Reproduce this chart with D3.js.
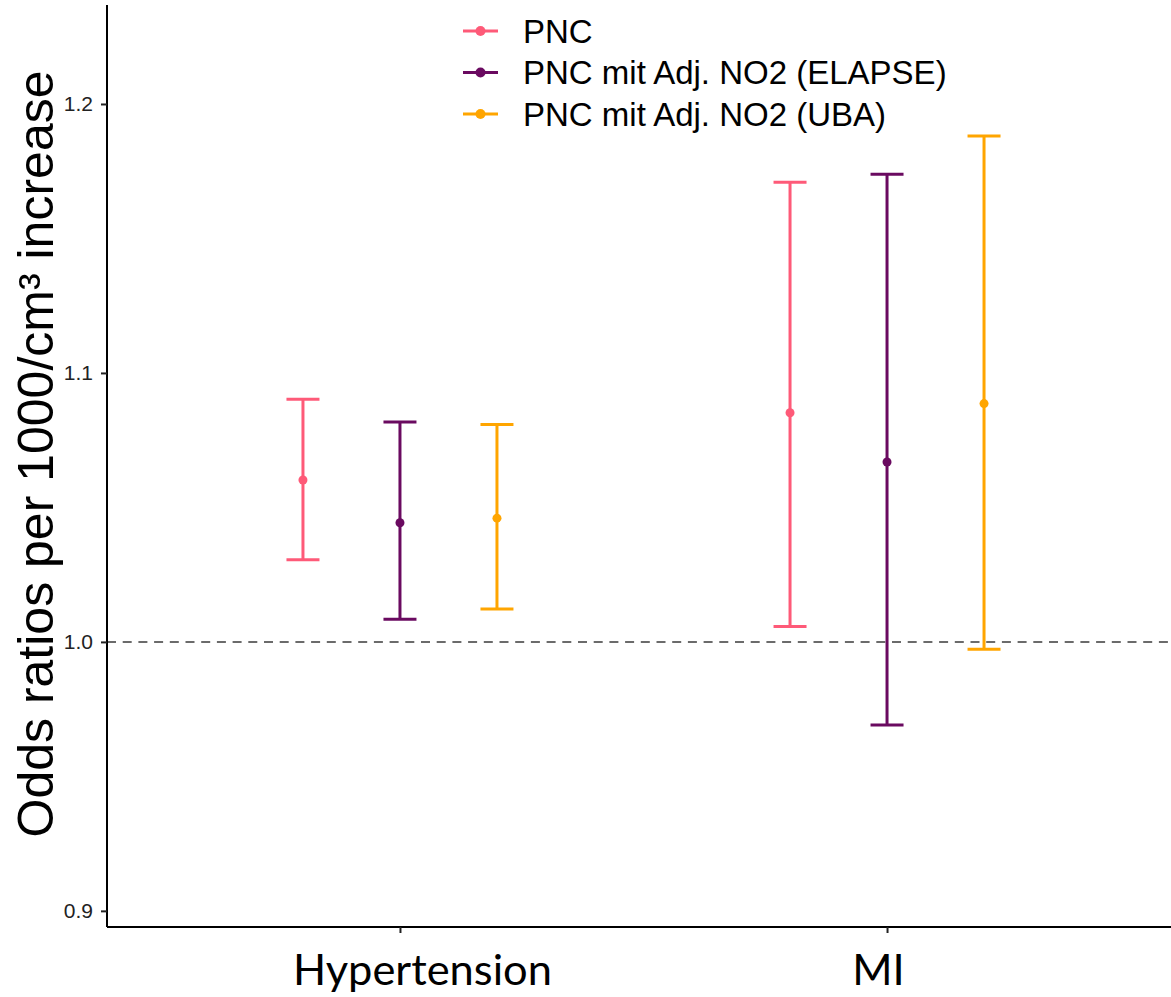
<!DOCTYPE html>
<html>
<head>
<meta charset="utf-8">
<script src="https://cdn.jsdelivr.net/npm/d3@7"></script>
<style>
  html, body { margin: 0; padding: 0; background: #fff; }
  svg { display: block; }
</style>
</head>
<body>
<svg id="chart" width="1171" height="997"></svg>
<script>
// ---- data ----
const categories = ["Hypertension", "MI"];
const seriesNames = ["PNC", "PNC mit Adj. NO2 (ELAPSE)", "PNC mit Adj. NO2 (UBA)"];
const seriesColors = ["#fe5a78", "#6a0a60", "#ffa500"];
// estimates [Hypertension, MI]
const estPNC     = [1.0602, 1.0852];
const lowPNC     = [1.0305, 1.0057];
const highPNC    = [1.0902, 1.1709];
const estELAPSE  = [1.0443, 1.0669];
const lowELAPSE  = [1.0084, 0.9691];
const highELAPSE = [1.0818, 1.1739];
const estUBA     = [1.0460, 1.0886];
const lowUBA     = [1.0122, 0.9973];
const highUBA    = [1.0808, 1.1881];
const yTicks = [0.9, 1.0, 1.1, 1.2];
const yTitle = "Odds ratios per 1000/cm³ increase";
const refValue = 1.0;

const seriesData = [
  {name: seriesNames[0], est: estPNC, low: lowPNC, high: highPNC},
  {name: seriesNames[1], est: estELAPSE, low: lowELAPSE, high: highELAPSE},
  {name: seriesNames[2], est: estUBA, low: lowUBA, high: highUBA}
];
const rows = [];
seriesData.forEach((s, si) => {
  categories.forEach((c, ci) => {
    rows.push({cat: c, series: s.name, color: seriesColors[si], est: s.est[ci], low: s.low[ci], high: s.high[ci]});
  });
});

// ---- layout ----
const svg = d3.select("#chart");
const mLeft = 107, mTop = 5, mBottom = 927, mRight = 1171;

const y = d3.scaleLinear().domain([0.894, 1.2368]).range([mBottom, mTop]);
const x = d3.scalePoint().domain(categories).range([mLeft, 1180]).padding(0.6015);
const dodge = d3.scaleBand().domain(seriesNames).range([-145.5, 145.5]);
const color = d3.scaleOrdinal().domain(seriesNames).range(seriesColors);
const xPos = d => x(d.cat) + dodge(d.series) + dodge.bandwidth() / 2;
const capW = 33;

// reference line
svg.append("line")
  .attr("x1", mLeft).attr("x2", mRight)
  .attr("y1", y(refValue)).attr("y2", y(refValue))
  .attr("stroke", "#6b6b6b").attr("stroke-width", 2)
  .attr("stroke-dasharray", "9,6.7");

// error bars
const g = svg.append("g");
const bars = g.selectAll("g.bar").data(rows).join("g").attr("class", "bar");
bars.append("line")
  .attr("x1", xPos).attr("x2", xPos)
  .attr("y1", d => y(d.low)).attr("y2", d => y(d.high))
  .attr("stroke", d => color(d.series)).attr("stroke-width", 3);
bars.append("line")
  .attr("x1", d => xPos(d) - capW / 2).attr("x2", d => xPos(d) + capW / 2)
  .attr("y1", d => y(d.high)).attr("y2", d => y(d.high))
  .attr("stroke", d => color(d.series)).attr("stroke-width", 3);
bars.append("line")
  .attr("x1", d => xPos(d) - capW / 2).attr("x2", d => xPos(d) + capW / 2)
  .attr("y1", d => y(d.low)).attr("y2", d => y(d.low))
  .attr("stroke", d => color(d.series)).attr("stroke-width", 3);
bars.append("circle")
  .attr("cx", xPos).attr("cy", d => y(d.est)).attr("r", 4.5)
  .attr("fill", d => color(d.series));

// y axis
const yAxis = svg.append("g").attr("transform", `translate(${mLeft},0)`)
  .call(d3.axisLeft(y).tickValues(yTicks).tickFormat(d3.format(".1f")).tickSize(6).tickPadding(8));
yAxis.select(".domain").attr("stroke", "#000").attr("stroke-width", 2)
  .attr("d", `M0,${mTop}V${mBottom}`);
yAxis.selectAll(".tick line").attr("stroke", "#222").attr("stroke-width", 2);
yAxis.selectAll(".tick text")
  .attr("font-family", "Liberation Sans, Arial, sans-serif")
  .attr("font-size", 21).attr("fill", "#222");

// x axis
const xAxis = svg.append("g").attr("transform", `translate(0,${mBottom})`)
  .call(d3.axisBottom(x).tickSize(6).tickPadding(26));
xAxis.select(".domain").attr("stroke", "#000").attr("stroke-width", 2)
  .attr("d", `M${mLeft},0H${mRight}`);
xAxis.selectAll(".tick line").attr("stroke", "#222").attr("stroke-width", 2);
const labelShift = {"Hypertension": 22, "MI": -9};
xAxis.selectAll(".tick text")
  .attr("font-family", "Lato, 'Open Sans', sans-serif")
  .attr("font-size", 44).attr("fill", "#000")
  .attr("dy", null).attr("y", 58)
  .attr("dx", d => labelShift[d] || 0);
// fit Hypertension width to ~259px
xAxis.selectAll(".tick text").each(function(d) {
  if (d === "Hypertension") {
    const w = this.getComputedTextLength();
    const fs = 44 * 259 / w;
    xAxis.selectAll(".tick text").attr("font-size", fs);
  }
});

// y title
svg.append("text")
  .attr("transform", `translate(53,454) rotate(-90)`)
  .attr("text-anchor", "middle")
  .attr("font-family", "Liberation Sans, Arial, sans-serif")
  .attr("font-size", 50).attr("fill", "#000")
  .text(yTitle);

// legend
const legend = svg.append("g");
const legY = d3.scalePoint().domain(seriesNames).range([31, 114]);
const li = legend.selectAll("g").data(seriesNames).join("g")
  .attr("transform", d => `translate(0,${legY(d)})`);
li.append("line").attr("x1", 463).attr("x2", 498).attr("y1", 0).attr("y2", 0)
  .attr("stroke", d => color(d)).attr("stroke-width", 3);
li.append("circle").attr("cx", 480.5).attr("cy", 0).attr("r", 5).attr("fill", d => color(d));
li.append("text").attr("x", 523).attr("y", 0).attr("dy", "0.36em")
  .attr("font-family", "Liberation Sans, Arial, sans-serif")
  .attr("font-size", 33).attr("fill", "#000")
  .text(d => d);
</script>
</body>
</html>
